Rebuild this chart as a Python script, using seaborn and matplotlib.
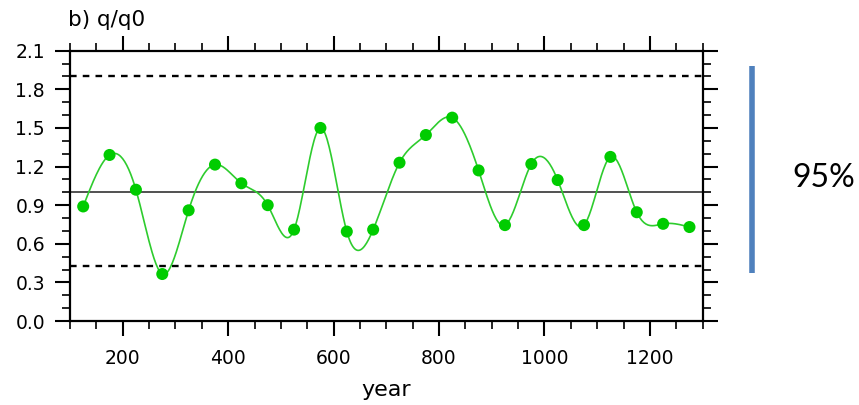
import numpy as np
import pandas as pd
import matplotlib
matplotlib.use("Agg")
import matplotlib.pyplot as plt
from matplotlib.lines import Line2D
from matplotlib.ticker import MultipleLocator
import seaborn as sns

# Ratio q/q0 sampled every 50 years (window centres)
years = [125, 175, 225, 275, 325, 375, 425, 475, 525, 575, 625, 675,
         725, 775, 825, 875, 925, 975, 1025, 1075, 1125, 1175, 1225, 1275]
ratio = [0.89, 1.29, 1.02, 0.365, 0.86, 1.215, 1.07, 0.90, 0.71, 1.50, 0.695, 0.71,
         1.23, 1.445, 1.58, 1.17, 0.745, 1.22, 1.095, 0.745, 1.275, 0.845, 0.755, 0.73]

# Reference levels: mean and 95% confidence bounds
mean_level = 1.0
upper_bound = 1.90
lower_bound = 0.425

x_ticks = [200, 400, 600, 800, 1000, 1200]
y_ticks = [0.0, 0.3, 0.6, 0.9, 1.2, 1.5, 1.8, 2.1]


def natural_cubic_spline(x, y, xs):
    x = np.asarray(x, float)
    y = np.asarray(y, float)
    n = len(x)
    h = np.diff(x)
    A = np.zeros((n, n))
    b = np.zeros(n)
    A[0, 0] = 1.0
    A[-1, -1] = 1.0
    for i in range(1, n - 1):
        A[i, i - 1] = h[i - 1]
        A[i, i] = 2 * (h[i - 1] + h[i])
        A[i, i + 1] = h[i]
        b[i] = 6 * ((y[i + 1] - y[i]) / h[i] - (y[i] - y[i - 1]) / h[i - 1])
    M = np.linalg.solve(A, b)
    idx = np.clip(np.searchsorted(x, xs) - 1, 0, n - 2)
    x0, x1 = x[idx], x[idx + 1]
    hh = x1 - x0
    t0 = x1 - xs
    t1 = xs - x0
    return (M[idx] * t0 ** 3 / (6 * hh) + M[idx + 1] * t1 ** 3 / (6 * hh)
            + (y[idx] / hh - M[idx] * hh / 6) * t0
            + (y[idx + 1] / hh - M[idx + 1] * hh / 6) * t1)


points = pd.DataFrame({"year": years, "ratio": ratio})
fine_years = np.linspace(years[0], years[-1], 600)
curve = pd.DataFrame({"year": fine_years,
                      "ratio": natural_cubic_spline(years, ratio, fine_years)})

sns.set_theme(style="ticks")
plt.rcParams["font.family"] = ["DejaVu Sans"]

fig = plt.figure(figsize=(8.59, 4.05), dpi=100)
ax = fig.add_axes([0.0815, 0.2074, 0.7365, 0.6674])

ax.axhline(upper_bound, color="black", lw=1.7, dashes=(2.8, 2.6), zorder=1)
ax.axhline(lower_bound, color="black", lw=1.7, dashes=(2.8, 2.6), zorder=1)
ax.axhline(mean_level, color="#222222", lw=1.1, zorder=1)

sns.lineplot(data=curve, x="year", y="ratio", ax=ax, color="#2ecc2e",
             lw=1.2, zorder=2)
sns.scatterplot(data=points, x="year", y="ratio", ax=ax, color="#00cc00",
                s=75, edgecolor="none", zorder=3)

ax.set_xlim(100, 1300)
ax.set_ylim(0.0, 2.1)
ax.set_xticks(x_ticks)
ax.set_yticks(y_ticks)
ax.set_yticklabels([f"{v:.1f}" for v in y_ticks])
ax.xaxis.set_minor_locator(MultipleLocator(50))
ax.yaxis.set_minor_locator(MultipleLocator(0.1))

ax.tick_params(which="both", direction="out", top=True, right=True,
               color="black", labelsize=13.5, labelcolor="black")
ax.tick_params(which="major", length=11, width=1.5)
ax.tick_params(which="minor", length=5.8, width=1.2)
ax.tick_params(axis="x", which="major", pad=9)
ax.tick_params(axis="y", which="major", pad=7)
for side in ax.spines.values():
    side.set_visible(True)
    side.set_linewidth(1.6)
    side.set_color("black")

ax.set_xlabel("year", fontsize=16, labelpad=9, color="black")
ax.set_ylabel("")

fig.text(68 / 859, 1 - 26 / 405, "b) q/q0", fontsize=15.5, ha="left",
         va="baseline", color="black")

# 95% range marker beside the panel
fig.add_artist(Line2D([752 / 859, 752 / 859], [1 - 66 / 405, 1 - 273 / 405],
                      transform=fig.transFigure, color="#4f81bd", lw=4,
                      solid_capstyle="butt"))
fig.text(824 / 859, 1 - 178 / 405, "95%", fontsize=23, ha="center",
         va="center", family=["Lato", "DejaVu Sans"], color="black")

fig.savefig("out.png", dpi=100, facecolor="white")
